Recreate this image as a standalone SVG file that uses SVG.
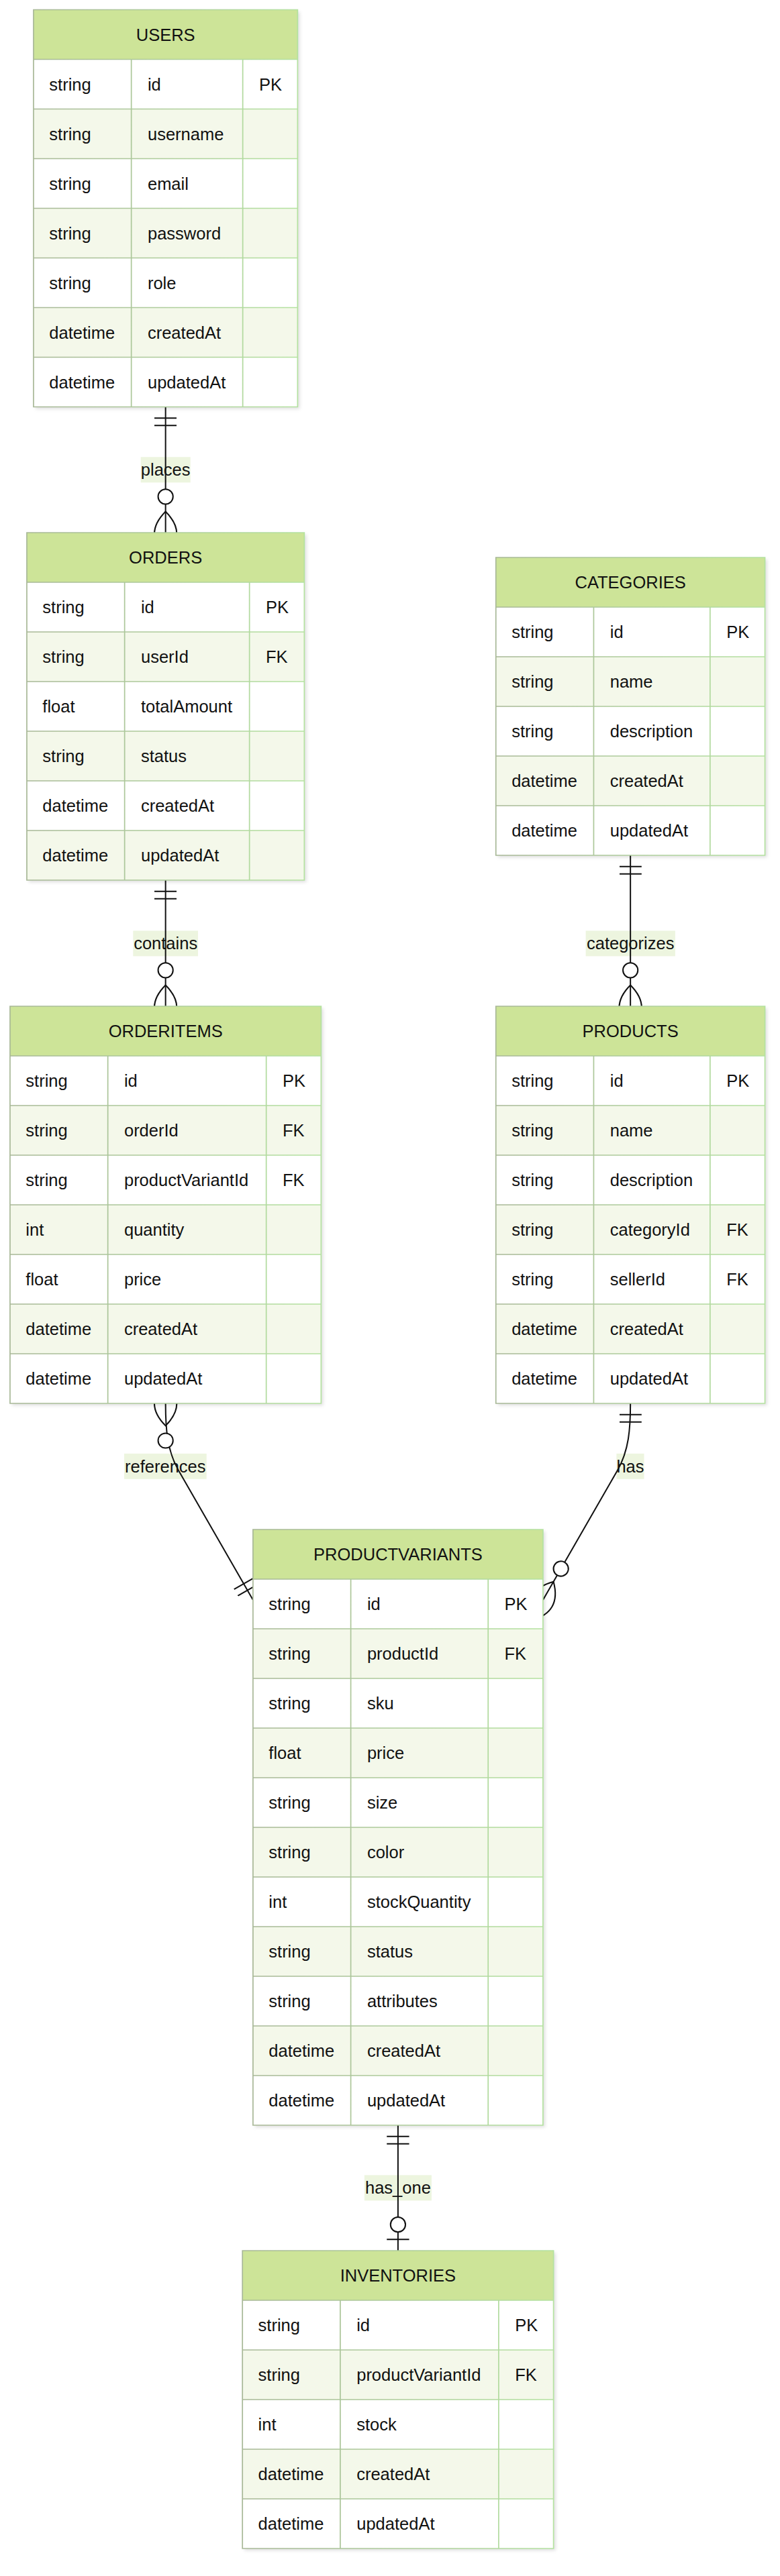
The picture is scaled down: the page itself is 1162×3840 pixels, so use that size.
<svg xmlns="http://www.w3.org/2000/svg" width="1162" height="3840" viewBox="0 0 1162 3840">
<defs>
<style>
.t{font-family:"Liberation Sans",Arial,Helvetica,sans-serif;font-size:25.5px;fill:#111}
.m{text-anchor:middle}
.hdr{fill:#cde498}
.odd{fill:#ffffff}
.even{fill:#f4f8ea}
.grid{fill:none;stroke:url(#gg);stroke-width:1.7}
.base{fill:#ffffff;filter:url(#sh)}
.edge{fill:none;stroke:#111;stroke-width:2}
.lb{fill:#edf5df}
.mk{fill:none;stroke:#111;stroke-width:1.1}
.mc{fill:#ffffff;stroke:#111;stroke-width:1.1}
</style>
<linearGradient id="gg" x1="0" y1="0" x2="1" y2="0">
<stop offset="0" stop-color="#a8b897"/>
<stop offset="1" stop-color="#b4e2a0"/>
</linearGradient>
<filter id="sh" x="-5%" y="-5%" width="115%" height="115%">
<feDropShadow dx="3" dy="3" stdDeviation="2.5" flood-color="#000" flood-opacity="0.13"/>
</filter>
<marker id="oneStart" viewBox="0 0 18 18" markerUnits="userSpaceOnUse" markerWidth="33.3" markerHeight="33.3" refX="0" refY="9" orient="auto">
<path class="mk" d="M9,0 L9,18 M15,0 L15,18"/>
</marker>
<marker id="oneEnd" viewBox="0 0 18 18" markerUnits="userSpaceOnUse" markerWidth="33.3" markerHeight="33.3" refX="18" refY="9" orient="auto">
<path class="mk" d="M3,0 L3,18 M9,0 L9,18"/>
</marker>
<marker id="zmEnd" viewBox="0 0 57 36" markerUnits="userSpaceOnUse" markerWidth="105.45" markerHeight="66.6" refX="38" refY="18" orient="auto">
<circle class="mc" cx="9" cy="18" r="6"/>
<path class="mk" d="M21,18 Q39,0 57,18 Q39,36 21,18"/>
</marker>
<marker id="zmStart" viewBox="0 0 57 36" markerUnits="userSpaceOnUse" markerWidth="105.45" markerHeight="66.6" refX="18" refY="18" orient="auto">
<circle class="mc" cx="48" cy="18" r="6"/>
<path class="mk" d="M0,18 Q18,0 36,18 Q18,36 0,18"/>
</marker>
<marker id="zoEnd" viewBox="0 0 30 18" markerUnits="userSpaceOnUse" markerWidth="55.5" markerHeight="33.3" refX="30" refY="9" orient="auto">
<circle class="mc" cx="9" cy="9" r="6"/>
<path class="mk" d="M21,0 L21,18"/>
</marker>
</defs>
<rect x="0" y="0" width="1162" height="3840" fill="#ffffff"/>

<g id="label-backgrounds">
<rect class="lb" x="209.7" y="681.3" width="74" height="38"/>
<rect class="lb" x="198.3" y="1387.4" width="96.7" height="38"/>
<rect class="lb" x="872.6" y="1387.4" width="133.3" height="38"/>
<rect class="lb" x="185" y="2166.8" width="122.7" height="38"/>
<rect class="lb" x="918.4" y="2166.8" width="41.1" height="38"/>
<rect class="lb" x="542.9" y="3242.4" width="100" height="38"/>
</g>

<g id="connectors">
<path id="e-places" class="edge" d="M246.65,606.5 L246.65,794" marker-start="url(#oneStart)" marker-end="url(#zmEnd)"/>
<path id="e-contains" class="edge" d="M246.65,1312 L246.65,1500" marker-start="url(#oneStart)" marker-end="url(#zmEnd)"/>
<path id="e-categorizes" class="edge" d="M939.15,1275 L939.15,1500" marker-start="url(#oneStart)" marker-end="url(#zmEnd)"/>
<path id="e-references" class="edge" d="M246.65,2092 C246.65,2130 248.8,2162 266,2192 L376.9,2385" marker-start="url(#zmStart)" marker-end="url(#oneEnd)"/>
<path id="e-has" class="edge" d="M939.15,2092 C939.15,2130 937,2162 919.8,2192 L808.9,2385" marker-start="url(#oneStart)" marker-end="url(#zmEnd)"/>
<path id="e-has_one" class="edge" d="M592.9,3168 L592.9,3355" marker-start="url(#oneStart)" marker-end="url(#zoEnd)"/>
</g>

<g id="labels">
<text class="t m" x="246.65" y="709.3">places</text>
<text class="t m" x="246.65" y="1415.4">contains</text>
<text class="t m" x="939.2" y="1415.4">categorizes</text>
<text class="t m" x="246.3" y="2194.8">references</text>
<text class="t m" x="939" y="2194.8">has</text>
<text class="t m" x="592.9" y="3270.4">has_one</text>
</g>

<g id="USERS" transform="translate(49.95,14.5)">
<rect class="base" x="0" y="0" width="393.4" height="592"/>
<rect class="hdr" x="0" y="0" width="393.4" height="74"/>
<rect class="even" x="0" y="148" width="393.4" height="74"/>
<rect class="even" x="0" y="296" width="393.4" height="74"/>
<rect class="even" x="0" y="444" width="393.4" height="74"/>
<path class="grid" d="M0,0 H393.4 V592 H0 Z M0,74 H393.4 M0,148 H393.4 M0,222 H393.4 M0,296 H393.4 M0,370 H393.4 M0,444 H393.4 M0,518 H393.4 M145.7,74 V592 M311.7,74 V592"/>
<text class="t m" x="196.7" y="46">USERS</text>
<text class="t" x="23.4" y="120">string</text><text class="t" x="170" y="120">id</text><text class="t" x="336" y="120">PK</text>
<text class="t" x="23.4" y="194">string</text><text class="t" x="170" y="194">username</text>
<text class="t" x="23.4" y="268">string</text><text class="t" x="170" y="268">email</text>
<text class="t" x="23.4" y="342">string</text><text class="t" x="170" y="342">password</text>
<text class="t" x="23.4" y="416">string</text><text class="t" x="170" y="416">role</text>
<text class="t" x="23.4" y="490">datetime</text><text class="t" x="170" y="490">createdAt</text>
<text class="t" x="23.4" y="564">datetime</text><text class="t" x="170" y="564">updatedAt</text>
</g>

<g id="ORDERS" transform="translate(39.95,794)">
<rect class="base" x="0" y="0" width="413.4" height="518"/>
<rect class="hdr" x="0" y="0" width="413.4" height="74"/>
<rect class="even" x="0" y="148" width="413.4" height="74"/>
<rect class="even" x="0" y="296" width="413.4" height="74"/>
<rect class="even" x="0" y="444" width="413.4" height="74"/>
<path class="grid" d="M0,0 H413.4 V518 H0 Z M0,74 H413.4 M0,148 H413.4 M0,222 H413.4 M0,296 H413.4 M0,370 H413.4 M0,444 H413.4 M145.7,74 V518 M331.7,74 V518"/>
<text class="t m" x="206.7" y="46">ORDERS</text>
<text class="t" x="23.4" y="120">string</text><text class="t" x="170" y="120">id</text><text class="t" x="356" y="120">PK</text>
<text class="t" x="23.4" y="194">string</text><text class="t" x="170" y="194">userId</text><text class="t" x="356" y="194">FK</text>
<text class="t" x="23.4" y="268">float</text><text class="t" x="170" y="268">totalAmount</text>
<text class="t" x="23.4" y="342">string</text><text class="t" x="170" y="342">status</text>
<text class="t" x="23.4" y="416">datetime</text><text class="t" x="170" y="416">createdAt</text>
<text class="t" x="23.4" y="490">datetime</text><text class="t" x="170" y="490">updatedAt</text>
</g>

<g id="CATEGORIES" transform="translate(738.75,831)">
<rect class="base" x="0" y="0" width="400.8" height="444"/>
<rect class="hdr" x="0" y="0" width="400.8" height="74"/>
<rect class="even" x="0" y="148" width="400.8" height="74"/>
<rect class="even" x="0" y="296" width="400.8" height="74"/>
<path class="grid" d="M0,0 H400.8 V444 H0 Z M0,74 H400.8 M0,148 H400.8 M0,222 H400.8 M0,296 H400.8 M0,370 H400.8 M145.7,74 V444 M319.1,74 V444"/>
<text class="t m" x="200.4" y="46">CATEGORIES</text>
<text class="t" x="23.4" y="120">string</text><text class="t" x="170" y="120">id</text><text class="t" x="343.4" y="120">PK</text>
<text class="t" x="23.4" y="194">string</text><text class="t" x="170" y="194">name</text>
<text class="t" x="23.4" y="268">string</text><text class="t" x="170" y="268">description</text>
<text class="t" x="23.4" y="342">datetime</text><text class="t" x="170" y="342">createdAt</text>
<text class="t" x="23.4" y="416">datetime</text><text class="t" x="170" y="416">updatedAt</text>
</g>

<g id="ORDERITEMS" transform="translate(14.95,1500)">
<rect class="base" x="0" y="0" width="463.4" height="592"/>
<rect class="hdr" x="0" y="0" width="463.4" height="74"/>
<rect class="even" x="0" y="148" width="463.4" height="74"/>
<rect class="even" x="0" y="296" width="463.4" height="74"/>
<rect class="even" x="0" y="444" width="463.4" height="74"/>
<path class="grid" d="M0,0 H463.4 V592 H0 Z M0,74 H463.4 M0,148 H463.4 M0,222 H463.4 M0,296 H463.4 M0,370 H463.4 M0,444 H463.4 M0,518 H463.4 M145.7,74 V592 M381.7,74 V592"/>
<text class="t m" x="231.7" y="46">ORDERITEMS</text>
<text class="t" x="23.4" y="120">string</text><text class="t" x="170" y="120">id</text><text class="t" x="406" y="120">PK</text>
<text class="t" x="23.4" y="194">string</text><text class="t" x="170" y="194">orderId</text><text class="t" x="406" y="194">FK</text>
<text class="t" x="23.4" y="268">string</text><text class="t" x="170" y="268">productVariantId</text><text class="t" x="406" y="268">FK</text>
<text class="t" x="23.4" y="342">int</text><text class="t" x="170" y="342">quantity</text>
<text class="t" x="23.4" y="416">float</text><text class="t" x="170" y="416">price</text>
<text class="t" x="23.4" y="490">datetime</text><text class="t" x="170" y="490">createdAt</text>
<text class="t" x="23.4" y="564">datetime</text><text class="t" x="170" y="564">updatedAt</text>
</g>

<g id="PRODUCTS" transform="translate(738.75,1500)">
<rect class="base" x="0" y="0" width="400.8" height="592"/>
<rect class="hdr" x="0" y="0" width="400.8" height="74"/>
<rect class="even" x="0" y="148" width="400.8" height="74"/>
<rect class="even" x="0" y="296" width="400.8" height="74"/>
<rect class="even" x="0" y="444" width="400.8" height="74"/>
<path class="grid" d="M0,0 H400.8 V592 H0 Z M0,74 H400.8 M0,148 H400.8 M0,222 H400.8 M0,296 H400.8 M0,370 H400.8 M0,444 H400.8 M0,518 H400.8 M145.7,74 V592 M319.1,74 V592"/>
<text class="t m" x="200.4" y="46">PRODUCTS</text>
<text class="t" x="23.4" y="120">string</text><text class="t" x="170" y="120">id</text><text class="t" x="343.4" y="120">PK</text>
<text class="t" x="23.4" y="194">string</text><text class="t" x="170" y="194">name</text>
<text class="t" x="23.4" y="268">string</text><text class="t" x="170" y="268">description</text>
<text class="t" x="23.4" y="342">string</text><text class="t" x="170" y="342">categoryId</text><text class="t" x="343.4" y="342">FK</text>
<text class="t" x="23.4" y="416">string</text><text class="t" x="170" y="416">sellerId</text><text class="t" x="343.4" y="416">FK</text>
<text class="t" x="23.4" y="490">datetime</text><text class="t" x="170" y="490">createdAt</text>
<text class="t" x="23.4" y="564">datetime</text><text class="t" x="170" y="564">updatedAt</text>
</g>

<g id="PRODUCTVARIANTS" transform="translate(376.9,2280)">
<rect class="base" x="0" y="0" width="432" height="888"/>
<rect class="hdr" x="0" y="0" width="432" height="74"/>
<rect class="even" x="0" y="148" width="432" height="74"/>
<rect class="even" x="0" y="296" width="432" height="74"/>
<rect class="even" x="0" y="444" width="432" height="74"/>
<rect class="even" x="0" y="592" width="432" height="74"/>
<rect class="even" x="0" y="740" width="432" height="74"/>
<path class="grid" d="M0,0 H432 V888 H0 Z M0,74 H432 M0,148 H432 M0,222 H432 M0,296 H432 M0,370 H432 M0,444 H432 M0,518 H432 M0,592 H432 M0,666 H432 M0,740 H432 M0,814 H432 M145.7,74 V888 M350.3,74 V888"/>
<text class="t m" x="216" y="46">PRODUCTVARIANTS</text>
<text class="t" x="23.4" y="120">string</text><text class="t" x="170" y="120">id</text><text class="t" x="374.6" y="120">PK</text>
<text class="t" x="23.4" y="194">string</text><text class="t" x="170" y="194">productId</text><text class="t" x="374.6" y="194">FK</text>
<text class="t" x="23.4" y="268">string</text><text class="t" x="170" y="268">sku</text>
<text class="t" x="23.4" y="342">float</text><text class="t" x="170" y="342">price</text>
<text class="t" x="23.4" y="416">string</text><text class="t" x="170" y="416">size</text>
<text class="t" x="23.4" y="490">string</text><text class="t" x="170" y="490">color</text>
<text class="t" x="23.4" y="564">int</text><text class="t" x="170" y="564">stockQuantity</text>
<text class="t" x="23.4" y="638">string</text><text class="t" x="170" y="638">status</text>
<text class="t" x="23.4" y="712">string</text><text class="t" x="170" y="712">attributes</text>
<text class="t" x="23.4" y="786">datetime</text><text class="t" x="170" y="786">createdAt</text>
<text class="t" x="23.4" y="860">datetime</text><text class="t" x="170" y="860">updatedAt</text>
</g>

<g id="INVENTORIES" transform="translate(361.2,3355)">
<rect class="base" x="0" y="0" width="463.4" height="444"/>
<rect class="hdr" x="0" y="0" width="463.4" height="74"/>
<rect class="even" x="0" y="148" width="463.4" height="74"/>
<rect class="even" x="0" y="296" width="463.4" height="74"/>
<path class="grid" d="M0,0 H463.4 V444 H0 Z M0,74 H463.4 M0,148 H463.4 M0,222 H463.4 M0,296 H463.4 M0,370 H463.4 M145.7,74 V444 M381.7,74 V444"/>
<text class="t m" x="231.7" y="46">INVENTORIES</text>
<text class="t" x="23.4" y="120">string</text><text class="t" x="170" y="120">id</text><text class="t" x="406" y="120">PK</text>
<text class="t" x="23.4" y="194">string</text><text class="t" x="170" y="194">productVariantId</text><text class="t" x="406" y="194">FK</text>
<text class="t" x="23.4" y="268">int</text><text class="t" x="170" y="268">stock</text>
<text class="t" x="23.4" y="342">datetime</text><text class="t" x="170" y="342">createdAt</text>
<text class="t" x="23.4" y="416">datetime</text><text class="t" x="170" y="416">updatedAt</text>
</g>
</svg>
